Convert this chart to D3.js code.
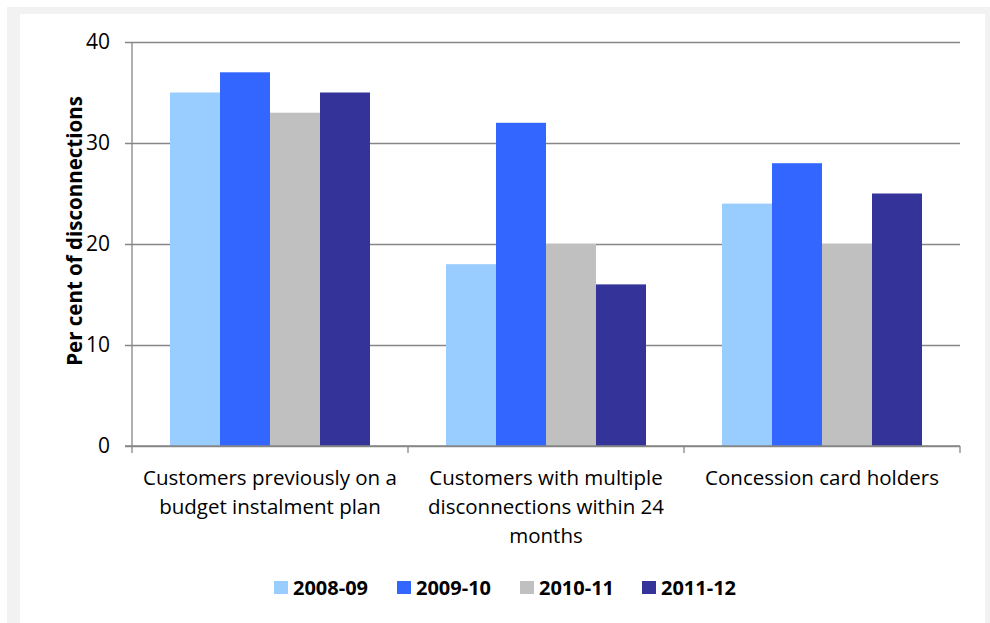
<!DOCTYPE html>
<html>
<head>
<meta charset="utf-8">
<script src="https://cdn.jsdelivr.net/npm/d3@7"></script>
<style>
  body { margin: 0; background: #fff; }
  text { font-family: "Open Sans", sans-serif; fill: #000; }
</style>
</head>
<body>
<div id="chart"></div>
<script>
var categories = [
    ["Customers previously on a", "budget instalment plan"],
    ["Customers with multiple", "disconnections within 24", "months"],
    ["Concession card holders"]
];
var seriesNames = ["2008-09", "2009-10", "2010-11", "2011-12"];
var seriesColors = ["#99ccff", "#3366ff", "#c0c0c0", "#333399"];
var values2008 = [35, 18, 24];
var values2009 = [37, 32, 28];
var values2010 = [33, 20, 20];
var values2011 = [35, 16, 25];
var yTicks = [0, 10, 20, 30, 40];

function init() {
    var w = 990;
    var h = 623;
    var left = 132, right = 960, top = 42, bottom = 446;
    var allValues = [values2008, values2009, values2010, values2011];

    var svg = d3.select("#chart")
        .append("svg")
        .attr("width", w)
        .attr("height", h);

    // grey frame round the white panel
    svg.append("rect").attr("x", 0).attr("y", 0).attr("width", w).attr("height", h).attr("fill", "#fff");
    svg.append("rect").attr("x", 7).attr("y", 7).attr("width", w - 7).attr("height", h - 7).attr("fill", "#f2f2f2");
    svg.append("rect").attr("x", 20).attr("y", 14).attr("width", 965).attr("height", h - 14).attr("fill", "#fff");

    var xScale = d3.scaleBand()
        .domain(d3.range(categories.length))
        .range([left, right])
        .paddingInner(76 / 276)
        .paddingOuter(38 / 276);

    var xInner = d3.scaleBand()
        .domain(d3.range(seriesNames.length))
        .range([0, xScale.bandwidth()]);

    var yScale = d3.scaleLinear()
        .domain([0, 40])
        .range([bottom, top]);

    // gridlines + y axis
    var yAxis = d3.axisLeft(yScale)
        .tickValues(yTicks)
        .tickSize(-(right - left))
        .tickPadding(22);

    var gy = svg.append("g")
        .attr("transform", "translate(" + left + ",0)")
        .call(yAxis);
    gy.select(".domain").remove();
    gy.selectAll(".tick line")
        .attr("x1", -7)
        .attr("stroke", "#868686")
        .attr("stroke-width", 1.3);
    gy.selectAll(".tick text")
        .style("font-size", "21px")
        .style("font-family", "'Open Sans', sans-serif");

    svg.append("line")
        .attr("x1", left).attr("x2", left)
        .attr("y1", top).attr("y2", bottom)
        .attr("stroke", "#868686").attr("stroke-width", 1.3);

    // bars
    var groups = svg.selectAll(".group")
        .data(categories)
        .enter()
        .append("g")
        .attr("class", "group")
        .attr("transform", function(d, i) {
            return "translate(" + xScale(i) + ",0)";
        });

    groups.selectAll("rect")
        .data(function(d, i) {
            return allValues.map(function(s) { return s[i]; });
        })
        .enter()
        .append("rect")
        .attr("x", function(d, j) { return xInner(j); })
        .attr("y", function(d) { return yScale(d); })
        .attr("width", xInner.bandwidth())
        .attr("height", function(d) { return bottom - yScale(d); })
        .attr("fill", function(d, j) { return seriesColors[j]; });

    // x axis line and boundary ticks
    svg.append("line")
        .attr("x1", left - 7).attr("x2", right)
        .attr("y1", bottom).attr("y2", bottom)
        .attr("stroke", "#868686").attr("stroke-width", 1.3);

    var step = xScale.step();
    svg.selectAll(".xtick")
        .data(d3.range(categories.length + 1))
        .enter()
        .append("line")
        .attr("x1", function(d) { return left + d * step; })
        .attr("x2", function(d) { return left + d * step; })
        .attr("y1", bottom)
        .attr("y2", bottom + 7)
        .attr("stroke", "#868686").attr("stroke-width", 1.3);

    // category labels
    svg.selectAll(".cat-label")
        .data(categories)
        .enter()
        .append("text")
        .attr("class", "cat-label")
        .attr("text-anchor", "middle")
        .style("font-size", "20.5px")
        .each(function(d, i) {
            var cx = xScale(i) + xScale.bandwidth() / 2;
            d3.select(this).selectAll("tspan")
                .data(d)
                .enter()
                .append("tspan")
                .attr("x", cx)
                .attr("y", function(line, k) { return 485 + k * 29; })
                .text(function(line) { return line; });
        });

    // y title
    svg.append("text")
        .attr("transform", "translate(82,231) rotate(-90)")
        .attr("text-anchor", "middle")
        .style("font-size", "20.5px")
        .style("font-weight", "bold")
        .text("Per cent of disconnections");

    // legend
    var legendX = [274, 397, 520, 642];
    var legend = svg.selectAll(".legend")
        .data(seriesNames)
        .enter()
        .append("g")
        .attr("class", "legend")
        .attr("transform", function(d, i) {
            return "translate(" + legendX[i] + ",581)";
        });
    legend.append("rect")
        .attr("width", 14)
        .attr("height", 13)
        .attr("fill", function(d, i) { return seriesColors[i]; });
    legend.append("text")
        .attr("x", 19)
        .attr("y", 14)
        .style("font-size", "20px")
        .style("font-weight", "bold")
        .text(function(d) { return d; });
}

window.onload = init;
</script>
</body>
</html>
